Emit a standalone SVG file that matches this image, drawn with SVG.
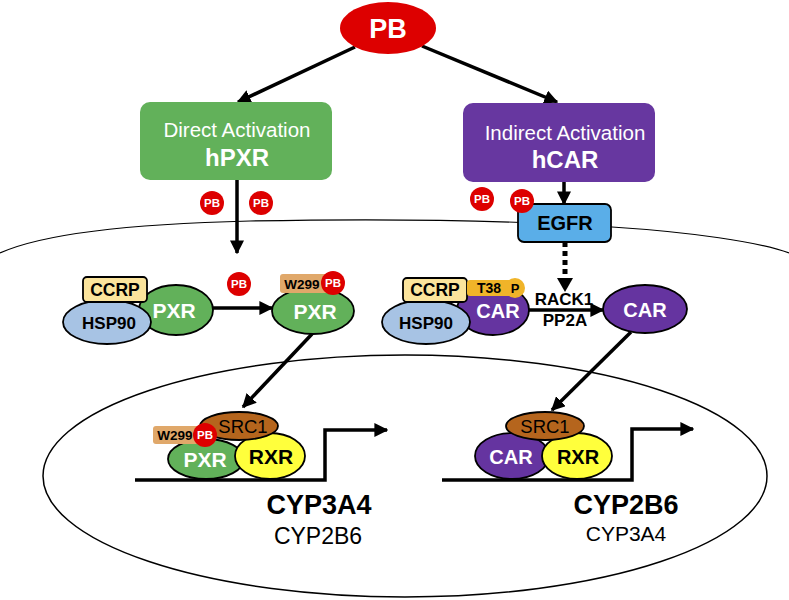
<svg xmlns="http://www.w3.org/2000/svg" width="789" height="600" viewBox="0 0 789 600">
<defs>
<marker id="ah" viewBox="0 0 10 10" refX="9" refY="5" markerUnits="userSpaceOnUse" markerWidth="14" markerHeight="14" orient="auto"><path d="M0,0 L10,5 L0,10 z" fill="#000"/></marker>
</defs>
<style>
text{font-family:"Liberation Sans",Arial,sans-serif;text-anchor:middle}
.b{font-weight:bold}
.w{fill:#fff}
.k{fill:#000}
.ol{stroke:#000;stroke-width:1.8}
.pxr{fill:#62b15a}
.car{fill:#6534a0}
.hsp{fill:#a7c3e4}
.ccrp{fill:#fbe49c}
.src{fill:#b5651d}
.rxr{fill:#ffff3c}
.pb{fill:#dd0000}
.con{stroke:#000;stroke-width:3.5;fill:none}
.pbt{font-size:11.5px;font-weight:bold;fill:#fff}
</style>
<path d="M0,253 C40,235 120,224 250,221 C400,218 520,221 612,227 C690,232 760,242 789,253" fill="none" stroke="#000" stroke-width="1.2"/>
<ellipse cx="405" cy="476" rx="362" ry="121" fill="none" stroke="#000" stroke-width="1.5"/>
<g id="connectors">
<line class="con" x1="355" y1="47" x2="238" y2="102" marker-end="url(#ah)"/>
<line class="con" x1="422" y1="46" x2="557" y2="102" marker-end="url(#ah)"/>
<line class="con" x1="237" y1="180" x2="237" y2="253" marker-end="url(#ah)"/>
<line class="con" x1="564" y1="182" x2="564" y2="204" marker-end="url(#ah)"/>
<line x1="565" y1="242" x2="565" y2="279" stroke="#000" stroke-width="5" stroke-dasharray="5,4" fill="none"/>
<path d="M557,278 L573,278 L565,292 z" fill="#000"/>
<line class="con" x1="213" y1="308" x2="272" y2="308" marker-end="url(#ah)"/>
<line class="con" x1="528" y1="310" x2="603" y2="310" marker-end="url(#ah)"/>
<line class="con" x1="312" y1="334" x2="243" y2="407" marker-end="url(#ah)"/>
<line class="con" x1="631" y1="332" x2="552" y2="410" marker-end="url(#ah)"/>
<polyline class="con" points="135,480 325,480 325,430 387,430" marker-end="url(#ah)"/>
<polyline class="con" points="442,480 632,480 632,429 693,429" marker-end="url(#ah)"/>
</g>
<g id="pb-top">
<ellipse class="pb" cx="388" cy="28" rx="48" ry="26"/>
<text class="b w" x="388" y="38" font-size="27">PB</text>
</g>
<g id="direct-hpxr">
<rect x="140" y="102" width="192" height="78" rx="10" fill="#62b15a"/>
<text class="w" x="237" y="137" font-size="20.5">Direct Activation</text>
<text class="b w" x="237" y="166" font-size="24">hPXR</text>
</g>
<g id="indirect-hcar">
<rect x="463" y="103" width="192" height="79" rx="10" fill="#6737a0"/>
<text class="w" x="565" y="140" font-size="20.5">Indirect Activation</text>
<text class="b w" x="565" y="168" font-size="24">hCAR</text>
</g>
<g id="pb-free1"><circle class="pb" cx="212" cy="203" r="12"/><text class="pbt" x="212" y="207">PB</text></g>
<g id="pb-free2"><circle class="pb" cx="261" cy="203" r="12"/><text class="pbt" x="261" y="207">PB</text></g>
<g id="pb-free3"><circle class="pb" cx="239" cy="284" r="12"/><text class="pbt" x="239" y="288">PB</text></g>
<g id="pb-free4"><circle class="pb" cx="482" cy="199" r="12"/><text class="pbt" x="482" y="203">PB</text></g>
<g id="egfr">
<rect x="518" y="204" width="93" height="38" rx="6" fill="#5aaee8" class="ol"/>
<text class="b k" x="565" y="230" font-size="20">EGFR</text>
<circle class="pb" cx="522" cy="201" r="12"/><text class="pbt" x="522" y="205">PB</text>
</g>
<g id="pxr-complex">
<ellipse class="pxr ol" cx="176" cy="310" rx="37" ry="25"/>
<ellipse class="hsp ol" cx="107" cy="322" rx="44" ry="22"/>
<rect class="ccrp ol" x="83" y="277" width="64" height="25" rx="4"/>
<text class="b k" x="115" y="296" font-size="17.5">CCRP</text>
<text class="b k" x="109" y="329" font-size="17">HSP90</text>
<text class="b w" x="174" y="318" font-size="21">PXR</text>
</g>
<g id="pxr-bound">
<ellipse class="pxr ol" cx="313" cy="311" rx="41" ry="23"/>
<rect x="280" y="274" width="48" height="19" rx="3" fill="#e0a86a"/>
<text class="b k" x="302" y="289" font-size="13.5">W299</text>
<circle class="pb" cx="333" cy="283" r="12"/><text class="pbt" x="333" y="287">PB</text>
<text class="b w" x="315" y="319" font-size="21">PXR</text>
</g>
<g id="car-complex">
<ellipse class="car ol" cx="493" cy="310" rx="36" ry="25"/>
<ellipse class="hsp ol" cx="426" cy="322" rx="44" ry="22"/>
<rect class="ccrp ol" x="403" y="278" width="64" height="24" rx="4"/>
<text class="b k" x="435" y="296" font-size="17.5">CCRP</text>
<text class="b k" x="426" y="329" font-size="17">HSP90</text>
<rect x="467" y="280" width="46" height="16" rx="3" fill="#f0b429"/>
<circle cx="515" cy="288" r="10" fill="#f0b429"/>
<text class="b k" x="489" y="293" font-size="14">T38</text>
<text class="b k" x="515" y="293" font-size="13">P</text>
<text class="b w" x="498" y="318" font-size="20">CAR</text>
</g>
<g id="rack1-pp2a">
<text class="b k" x="564" y="305" font-size="17">RACK1</text>
<text class="b k" x="565" y="326" font-size="17">PP2A</text>
</g>
<g id="car-free">
<ellipse class="car ol" cx="645" cy="309" rx="42" ry="24"/>
<text class="b w" x="645" y="317" font-size="20">CAR</text>
</g>
<g id="pxr-rxr-dna">
<ellipse class="pxr ol" cx="206" cy="459" rx="38" ry="20"/>
<ellipse class="rxr ol" cx="270" cy="456" rx="35" ry="23"/>
<ellipse class="src ol" cx="239" cy="426" rx="39" ry="14"/>
<rect x="153" y="426" width="46" height="18" rx="3" fill="#e0a86a"/>
<text class="b k" x="175" y="440" font-size="13.5">W299</text>
<circle class="pb" cx="205" cy="435" r="12"/><text class="pbt" x="205" y="439">PB</text>
<text class="k" x="243" y="433" font-size="18.5">SRC1</text>
<text class="b w" x="205" y="467" font-size="21">PXR</text>
<text class="b k" x="271" y="464" font-size="21">RXR</text>
</g>
<g id="car-rxr-dna">
<ellipse class="car ol" cx="512" cy="456" rx="37" ry="23"/>
<ellipse class="rxr ol" cx="577" cy="456" rx="35" ry="23"/>
<ellipse class="src ol" cx="545" cy="426" rx="39" ry="14"/>
<text class="k" x="545" y="433" font-size="18.5">SRC1</text>
<text class="b w" x="511" y="464" font-size="20">CAR</text>
<text class="b k" x="578" y="464" font-size="20">RXR</text>
</g>
<g id="gene-labels">
<text class="b k" x="319" y="514" font-size="27">CYP3A4</text>
<text class="k" x="318" y="544" font-size="23">CYP2B6</text>
<text class="b k" x="626" y="514" font-size="27">CYP2B6</text>
<text class="k" x="626" y="541" font-size="21">CYP3A4</text>
</g>
</svg>
